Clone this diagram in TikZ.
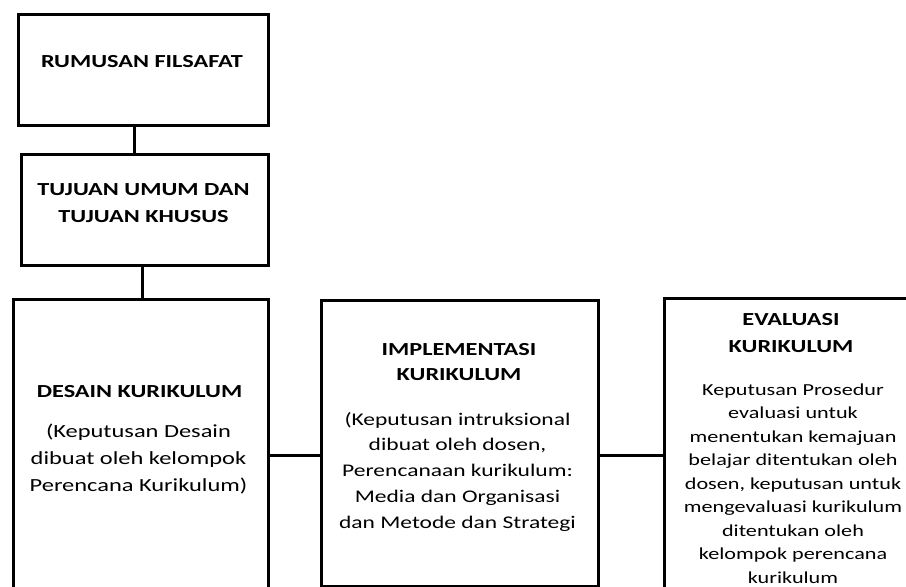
\documentclass[tikz,border=0pt]{standalone}
\usepackage{fontspec}
\setmainfont{Carlito}[FakeStretch=1.32]
\begin{document}
\begin{tikzpicture}[x=1pt,y=-1pt,
  box/.style={draw, line width=3pt, rectangle, anchor=north west, inner sep=0pt},
  head/.style={font=\fontsize{18.4}{26.5}\selectfont\bfseries, align=center, inner sep=0pt, anchor=base},
  body/.style={font=\fontsize{18.5}{26.5}\selectfont, align=center, inner sep=0pt, anchor=base},
  link/.style={line width=3pt}]
\useasboundingbox (0,0) rectangle (906,587);
\clip (0,0) rectangle (906,587);
% boxes
\node[box, minimum width=250pt, minimum height=111pt] (b1) at (17,13) {};
\node[box, minimum width=247pt, minimum height=111pt] (b2) at (20,153) {};
\node[box, minimum width=255pt, minimum height=342pt] (b3) at (12,298) {};
\node[box, minimum width=277pt, minimum height=286pt] (b4) at (320,299) {};
\node[box, minimum width=257pt, minimum height=343pt] (b5) at (663,297) {};
% texts (anchor base = baseline of the last line)
\node[head] (t1) at (142,67) {RUMUSAN FILSAFAT};
\node[head, font=\fontsize{18.4}{27}\selectfont\bfseries] (t2) at (143.5,222) {TUJUAN UMUM DAN\\TUJUAN KHUSUS};
\node[head] (t3) at (139.5,397) {DESAIN KURIKULUM};
\node[body, font=\fontsize{18.5}{26.7}\selectfont] (t3b) at (138.5,491) {(Keputusan Desain\\dibuat oleh kelompok\\Perencana Kurikulum)};
\node[head, font=\fontsize{18.4}{25}\selectfont\bfseries] (t4) at (459,380) {IMPLEMENTASI\\KURIKULUM};
\node[body, font=\fontsize{17.8}{25.7}\selectfont] (t4b) at (457.5,528) {(Keputusan intruksional\\dibuat oleh dosen,\\Perencanaan kurikulum:\\Media dan Organisasi\\dan Metode dan Strategi};
\node[head, font=\fontsize{18.4}{27}\selectfont\bfseries] (t5) at (791,352) {EVALUASI\\KURIKULUM};
\node[body, font=\fontsize{16.8}{23.5}\selectfont] (t5b) at (793,583) {Keputusan Prosedur\\evaluasi untuk\\menentukan kemajuan\\belajar ditentukan oleh\\dosen, keputusan untuk\\mengevaluasi kurikulum\\ditentukan oleh\\kelompok perencana\\kurikulum};
% connectors
\coordinate (c1) at (134,0);
\coordinate (c2) at (142,0);
\coordinate (c3) at (0,455);
\draw[link] (b1.south -| c1) -- (b2.north -| c1);
\draw[link] (b2.south -| c2) -- (b3.north -| c2);
\draw[link] (b3.east |- c3) -- (b4.west |- c3);
\draw[link] (b4.east |- c3) -- (b5.west |- c3);
\end{tikzpicture}
\end{document}
